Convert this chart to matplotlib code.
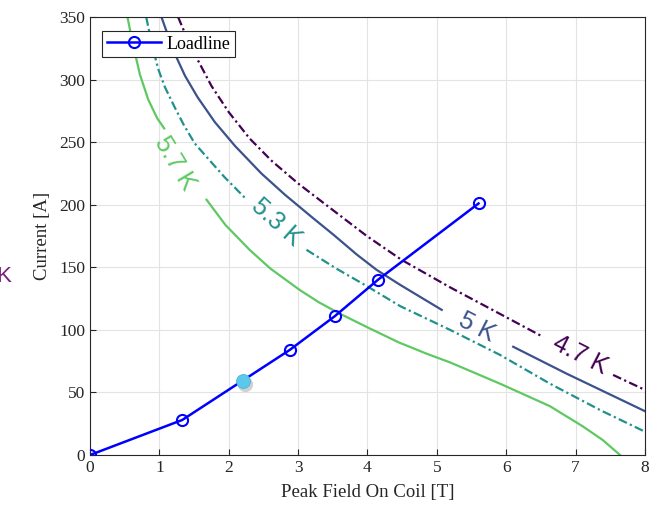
import matplotlib
matplotlib.use("Agg")
import matplotlib.pyplot as plt

# loadline (field [T], current [A])
load_B = [0, 1.33, 2.88, 3.53, 4.15, 5.6]
load_I = [0, 28, 84, 111, 140, 201]
op_B, op_I = 2.2, 59   # operating point

# critical current curves, split where the inline label sits
temps = ["4.7 K", "5 K", "5.3 K", "5.7 K"]
colors = ["#440154", "#3b528b", "#21918c", "#5ec962"]
dashdot = (0, (4, 1.5, 1, 1.5))
styles = [dashdot, "-", dashdot, "-"]

curve_B = [
    ([1.27, 1.4, 1.56, 1.75, 2.0, 2.3, 2.62, 3.0, 3.4, 3.99, 4.49, 5.19, 5.8, 6.51],
     [7.54, 8.0]),
    ([1.03, 1.12, 1.22, 1.37, 1.55, 1.8, 2.09, 2.47, 2.81, 3.2, 3.51, 3.85, 4.13, 4.47, 5.07],
     [6.1, 6.87, 8.0]),
    ([0.81, 0.89, 0.98, 1.08, 1.22, 1.35, 1.51, 1.7, 1.94, 2.26],
     [3.12, 3.55, 3.99, 4.47, 5.19, 5.91, 6.63, 7.35, 8.0]),
    ([0.54, 0.62, 0.72, 0.84, 0.97, 1.07],
     [1.68, 1.95, 2.3, 2.6, 3.02, 3.3, 3.6, 4.0, 4.45, 4.85, 5.19, 5.91, 6.63, 7.1, 7.39, 7.64]),
]
curve_I = [
    ([350, 333, 315, 295, 274, 253, 235, 217, 200, 175, 156, 134, 116, 95],
     [64, 52]),
    ([350, 336, 321, 303, 286, 266, 247, 225, 208, 190, 176, 160, 148, 136, 116],
     [86.5, 65, 35]),
    ([350, 329, 309, 294, 278, 264, 249, 237, 222, 204],
     [164, 149, 135, 119, 100, 80, 57, 36, 18.6]),
    ([350, 328, 304, 284, 269, 261],
     [204, 184, 164, 149, 132, 122, 113, 102, 90, 81, 74, 57, 39, 23, 12, 0]),
]
label_pos = [(7.06, 80), (5.57, 102), (2.69, 186), (1.22, 233)]
label_rot = [-27, -27, -42, -59]

fig = plt.figure(figsize=(6.66, 5.19), dpi=100)
ax = fig.add_axes([0.1351, 0.1233, 0.8334, 0.8439])

for k in range(len(temps)):
    for seg in range(2):
        ax.plot(curve_B[k][seg], curve_I[k][seg], color=colors[k],
                linestyle=styles[k], linewidth=1.6, zorder=2)
    ax.text(label_pos[k][0], label_pos[k][1], temps[k], color=colors[k],
            fontsize=18, family="Liberation Sans", rotation=label_rot[k],
            ha="center", va="center", rotation_mode="anchor", zorder=3)

ax.plot(load_B, load_I, color="#0000ff", linewidth=1.8, marker="o",
        markersize=8, markerfacecolor="none", markeredgewidth=1.5,
        label="Loadline", zorder=4)

# operating point with a soft shadow
ax.plot(op_B + 0.04, op_I - 2.5, "o", color="#000000", alpha=0.18,
        markersize=11, markeredgewidth=0, zorder=5)
ax.plot(op_B, op_I, "o", color="#5bc8ec", markersize=10,
        markeredgecolor="#4ab3d6", markeredgewidth=0.6, zorder=6)

ax.set_xlim(0, 8)
ax.set_ylim(0, 350)
ax.set_xticks(range(0, 9))
ax.set_yticks(range(0, 351, 50))
ax.grid(True, color="#e3e3e3", linewidth=0.8, zorder=0)
ax.set_axisbelow(True)
ax.tick_params(direction="in", length=4, colors="#262626", labelsize=12.5)
for lab in ax.get_xticklabels() + ax.get_yticklabels():
    lab.set_family("Liberation Serif")
for sp in ax.spines.values():
    sp.set_color("#262626")
    sp.set_linewidth(0.8)

ax.set_xlabel("Peak Field On Coil [T]", family="Liberation Serif",
              fontsize=13.5, color="#262626", labelpad=6)
ax.set_ylabel("Current [A]", family="Liberation Serif",
              fontsize=13.5, color="#262626", labelpad=6)

leg = ax.legend(loc="upper left", bbox_to_anchor=(0.022, 0.968),
                prop={"family": "Liberation Serif", "size": 13},
                fancybox=False, framealpha=1, edgecolor="#262626",
                handlelength=3.0, borderpad=0.25, handletextpad=0.3,
                borderaxespad=0)
leg.get_frame().set_linewidth(0.8)

# letter clipped at the left edge, as in the original image
fig.text(0.005, 0.468, "K", color="#7b1f7c", fontsize=16,
         family="Liberation Sans", ha="center", va="center")

fig.savefig("out.png", dpi=100)
